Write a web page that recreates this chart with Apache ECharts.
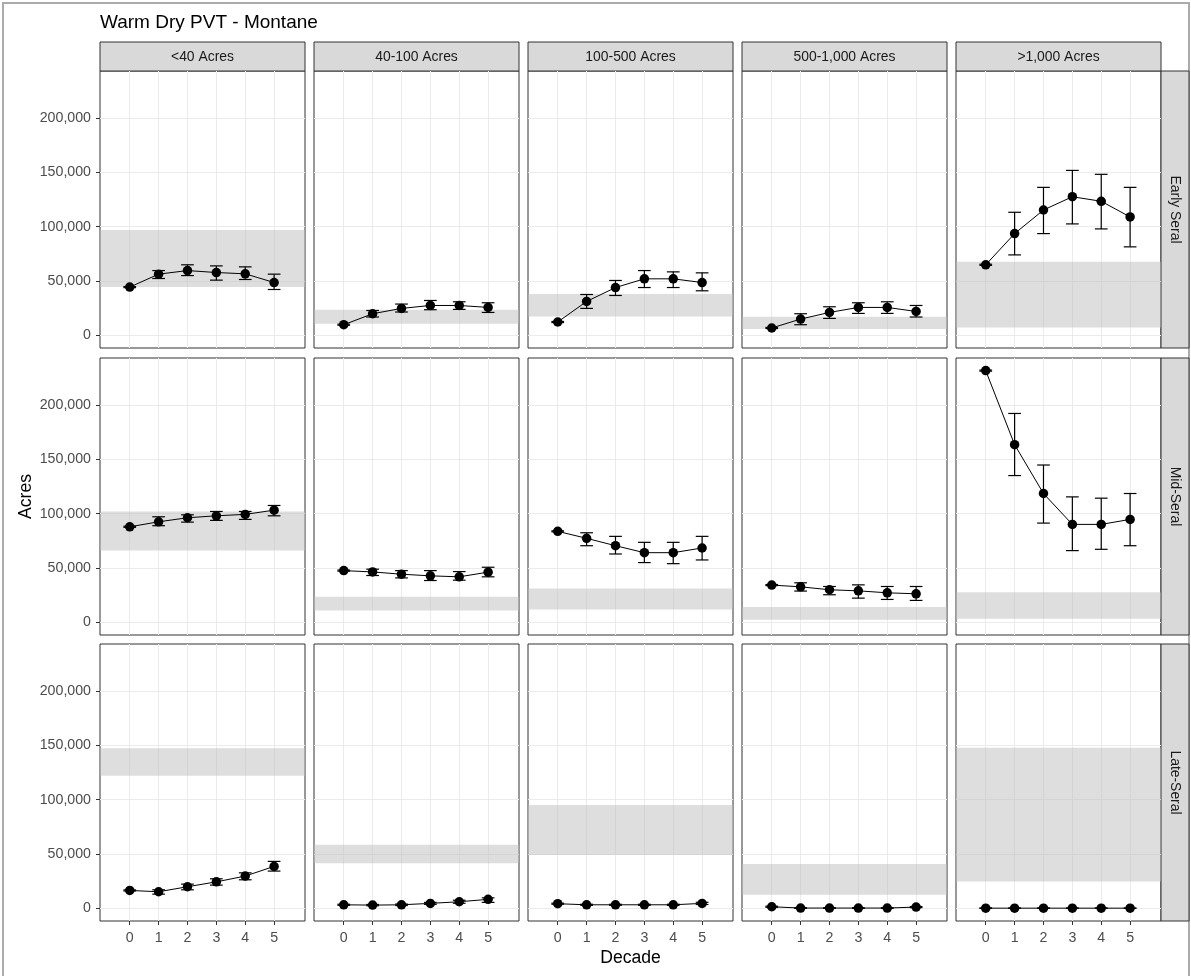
<!DOCTYPE html>
<html><head><meta charset="utf-8">
<script src="https://cdn.jsdelivr.net/npm/echarts@6/dist/echarts.min.js"></script>
<style>html,body{margin:0;padding:0;background:#fff}#c{width:1191px;height:976px}</style>
</head><body><div id="c"></div>
<script>
const chartTitle = 'Warm Dry PVT - Montane';
const xTitle = 'Decade';
const yTitle = 'Acres';
const sizeClasses = ['<40 Acres', '40-100 Acres', '100-500 Acres', '500-1,000 Acres', '>1,000 Acres'];
const seralStages = ['Early Seral', 'Mid-Seral', 'Late-Seral'];
const decades = [0, 1, 2, 3, 4, 5];
const yTicks = [0, 50000, 100000, 150000, 200000];

// Early Seral (one array per size class)
const earlyMean = [
  [44400, 56300, 59600, 57800, 56600, 48600],
  [9800, 19900, 24800, 27500, 27500, 25700],
  [12300, 31200, 44000, 52000, 52000, 48600],
  [6800, 15000, 21100, 25700, 25700, 22000],
  [64900, 93600, 115300, 127500, 123300, 108900]
];
const earlyLow = [
  [43900, 52300, 55000, 50800, 51400, 42200],
  [9300, 16900, 21500, 23600, 23900, 21100],
  [11800, 24800, 36700, 44000, 44000, 41000],
  [6300, 9800, 15600, 20200, 20200, 16900],
  [64400, 74000, 93600, 102500, 97900, 81400]
];
const earlyHigh = [
  [44900, 59600, 64900, 63900, 63000, 56300],
  [10300, 22900, 28800, 32100, 30900, 30000],
  [12800, 37600, 50500, 59600, 58400, 57500],
  [7300, 19900, 26300, 30000, 30900, 27500],
  [65400, 113200, 136100, 151700, 148100, 136100]
];
const earlyRange = [[44400, 97000], [10700, 23600], [17400, 38000], [5900, 17200], [7300, 67600]];

// Mid-Seral
const midMean = [
  [87900, 92500, 96200, 98000, 99300, 103200],
  [47600, 46400, 44300, 42800, 41900, 46200],
  [83700, 77300, 70500, 64100, 64100, 68400],
  [34300, 32700, 30000, 29000, 27200, 26300],
  [231500, 163400, 118500, 90100, 90100, 94700]
];
const midLow = [
  [87400, 88900, 92200, 93800, 94700, 98000],
  [47100, 43100, 40900, 38500, 38800, 41900],
  [83200, 70500, 62900, 55000, 54000, 57400],
  [33800, 28800, 25400, 22300, 21100, 20200],
  [231000, 135000, 91300, 66000, 67200, 70500]
];
const midHigh = [
  [88400, 97100, 98900, 102000, 102000, 107500],
  [48100, 48900, 47600, 47600, 46700, 50700],
  [84200, 82400, 79100, 73600, 73600, 79100],
  [34800, 36400, 33000, 34500, 33000, 33000],
  [232000, 192100, 144700, 115400, 114200, 118500]
];
const midRange = [[66000, 102000], [11000, 23500], [11900, 31100], [2500, 14100], [3400, 27800]];

// Late-Seral
const lateMean = [
  [16500, 15300, 19900, 24400, 29700, 38600],
  [3300, 3000, 3300, 4600, 6100, 8300],
  [4300, 3300, 3300, 3300, 3300, 4600],
  [1500, 300, 300, 300, 300, 1200],
  [200, 200, 200, 200, 200, 200]
];
const lateLow = [
  [16000, 13100, 17100, 21400, 26300, 34300],
  [2800, 2400, 2600, 3700, 4700, 5500],
  [3800, 2800, 2800, 2800, 2800, 3600],
  [1000, 0, 0, 0, 0, 700],
  [0, 0, 0, 0, 0, 0]
];
const lateHigh = [
  [17000, 17100, 22300, 27200, 32700, 43200],
  [3800, 3600, 4000, 5500, 7500, 9700],
  [4800, 3800, 3800, 3800, 3800, 5600],
  [2000, 600, 600, 600, 600, 1700],
  [400, 400, 400, 400, 400, 400]
];
const lateRange = [[121900, 147300], [41400, 58500], [49000, 95000], [12500, 40700], [24800, 147600]];

const stageData = [
  {mean: earlyMean, low: earlyLow, high: earlyHigh, range: earlyRange},
  {mean: midMean, low: midLow, high: midHigh, range: midRange},
  {mean: lateMean, low: lateLow, high: lateHigh, range: lateRange}
];

// layout
const FONT = 'Liberation Sans, Arial, sans-serif';
const colLeft = [100, 314, 528, 742, 956];
const panelW = 205;
const rowTop = [71, 358, 644];
const panelH = 277;
const X_MIN = -1.03, X_MAX = 6.07;
const Y_MIN = -11600, Y_MAX = 243100;
const CAP_HALF = 0.22;

const grids = [], xAxes = [], yAxes = [], series = [];
const graphics = [];

graphics.push({type: 'rect', shape: {x: 3, y: 3, width: 1186, height: 990}, style: {fill: 'none', stroke: '#ababab', lineWidth: 2}, silent: true});

for (let r = 0; r < 3; r++) {
  for (let c = 0; c < 5; c++) {
    const idx = grids.length;
    const d = stageData[r];
    grids.push({left: colLeft[c], top: rowTop[r], width: panelW, height: panelH, show: true,
      backgroundColor: '#fff', borderColor: '#333', borderWidth: 1, outerBoundsMode: 'none', containLabel: false});
    const bottomRow = r === 2, leftCol = c === 0;
    xAxes.push({gridIndex: idx, type: 'value', min: X_MIN, max: X_MAX, position: 'bottom',
      axisLine: {show: false, onZero: false},
      axisTick: {show: bottomRow, customValues: decades, length: 4, lineStyle: {color: '#333', width: 1}},
      axisLabel: {show: bottomRow, customValues: decades, color: '#4d4d4d', fontSize: 14.2, fontFamily: FONT, margin: 10},
      splitLine: {show: true, lineStyle: {color: '#ebebeb', width: 1}}
    });
    yAxes.push({gridIndex: idx, type: 'value', min: Y_MIN, max: Y_MAX, position: 'left',
      axisLine: {show: false, onZero: false},
      axisTick: {show: leftCol, customValues: yTicks, length: 4, lineStyle: {color: '#333', width: 1}},
      axisLabel: {show: leftCol, customValues: yTicks, color: '#4d4d4d', fontSize: 14.2, fontFamily: FONT, margin: 9,
        formatter: v => Number(v).toLocaleString('en-US')},
      splitLine: {show: true, lineStyle: {color: '#ebebeb', width: 1}}
    });
    // reference range band
    series.push({type: 'custom', xAxisIndex: idx, yAxisIndex: idx, z: 1, silent: true,
      data: [d.range[c]],
      renderItem: (params, api) => {
        const cs = params.coordSys;
        const yLo = api.coord([0, api.value(0)])[1];
        const yHi = api.coord([0, api.value(1)])[1];
        return {type: 'rect', shape: {x: cs.x, y: yHi, width: cs.width, height: yLo - yHi},
          style: {fill: 'rgba(190,190,190,0.5)'}};
      }
    });
    // error bars
    series.push({type: 'custom', xAxisIndex: idx, yAxisIndex: idx, z: 3, silent: true,
      data: decades.map((x, i) => [x, d.low[c][i], d.high[c][i]]),
      renderItem: (params, api) => {
        const x = api.value(0);
        const lo = api.coord([x, api.value(1)]);
        const hi = api.coord([x, api.value(2)]);
        const hw = api.size([CAP_HALF, 0])[0];
        const st = {stroke: '#000', lineWidth: 1.2};
        return {type: 'group', children: [
          {type: 'line', shape: {x1: lo[0], y1: lo[1], x2: hi[0], y2: hi[1]}, style: st},
          {type: 'line', shape: {x1: lo[0] - hw, y1: lo[1], x2: lo[0] + hw, y2: lo[1]}, style: st},
          {type: 'line', shape: {x1: hi[0] - hw, y1: hi[1], x2: hi[0] + hw, y2: hi[1]}, style: st}
        ]};
      }
    });
    // mean line + points
    series.push({type: 'line', xAxisIndex: idx, yAxisIndex: idx, z: 4, silent: true,
      data: decades.map((x, i) => [x, d.mean[c][i]]),
      symbol: 'circle', symbolSize: 9.5, showSymbol: true,
      itemStyle: {color: '#000'}, lineStyle: {color: '#000', width: 1}
    });
  }
}

// column strips
sizeClasses.forEach((lab, c) => {
  graphics.push({type: 'rect', shape: {x: colLeft[c], y: 42, width: panelW, height: 29},
    style: {fill: '#d9d9d9', stroke: '#333', lineWidth: 1}, silent: true});
  graphics.push({type: 'text', x: colLeft[c] + panelW / 2, y: 57, silent: true,
    style: {text: lab, fill: '#1a1a1a', font: '13.9px ' + FONT, align: 'center', verticalAlign: 'middle'}});
});
// row strips
seralStages.forEach((lab, r) => {
  graphics.push({type: 'rect', shape: {x: 1161, y: rowTop[r], width: 28, height: panelH},
    style: {fill: '#d9d9d9', stroke: '#333', lineWidth: 1}, silent: true});
  graphics.push({type: 'text', x: 1175, y: rowTop[r] + panelH / 2, rotation: -Math.PI / 2, silent: true,
    style: {text: lab, fill: '#1a1a1a', font: '13.9px ' + FONT, align: 'center', verticalAlign: 'middle'}});
});
// titles
graphics.push({type: 'text', x: 100, y: 22.5, silent: true,
  style: {text: chartTitle, fill: '#000', font: '19px ' + FONT, align: 'left', verticalAlign: 'middle'}});
graphics.push({type: 'text', x: 630.5, y: 958.5, silent: true,
  style: {text: xTitle, fill: '#000', font: '17.6px ' + FONT, align: 'center', verticalAlign: 'middle'}});
graphics.push({type: 'text', x: 26.5, y: 496.5, rotation: Math.PI / 2, silent: true,
  style: {text: yTitle, fill: '#000', font: '17.6px ' + FONT, align: 'center', verticalAlign: 'middle'}});

const chart = echarts.init(document.getElementById('c'), null, {renderer: 'canvas'});
chart.setOption({
  animation: false,
  backgroundColor: '#fff',
  grid: grids, xAxis: xAxes, yAxis: yAxes, series: series,
  graphic: graphics
});
</script></body></html>
